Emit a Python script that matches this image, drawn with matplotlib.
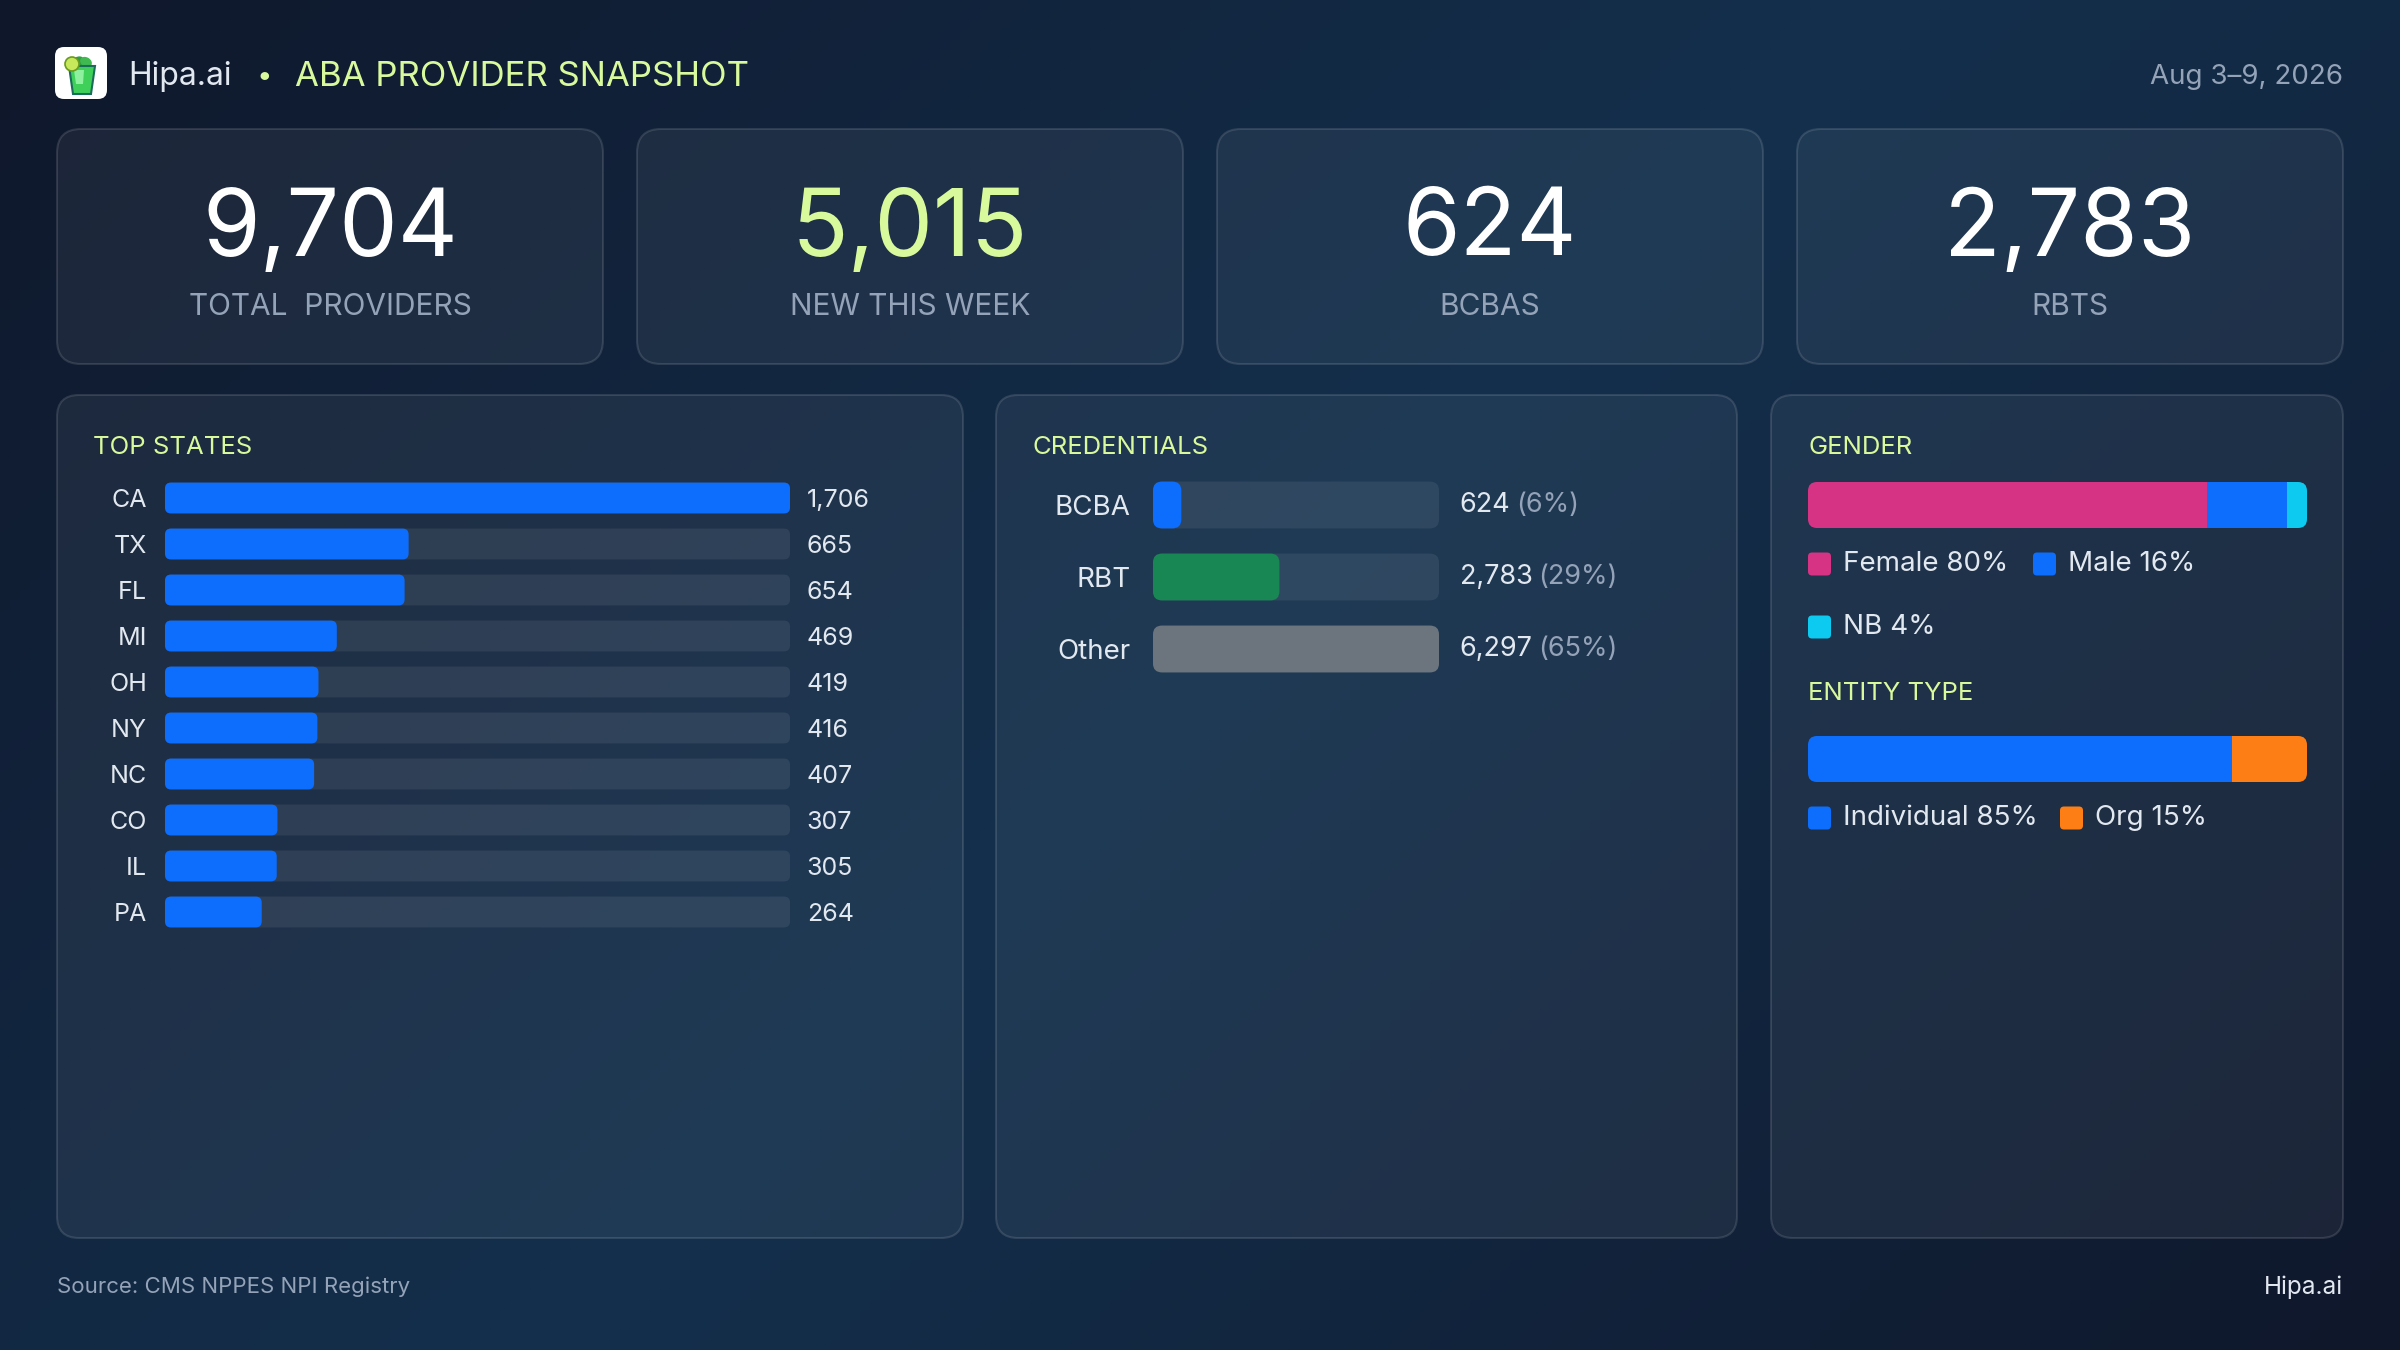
import numpy as np
import matplotlib
matplotlib.use("Agg")
import matplotlib.pyplot as plt
from matplotlib.patches import FancyBboxPatch, Polygon, Circle, Ellipse
from matplotlib.colors import LinearSegmentedColormap

plt.rcParams['font.family'] = ['Inter', 'DejaVu Sans']

# ---- data ----
kpi_values = ["9,704", "5,015", "624", "2,783"]
kpi_labels = ["TOTAL  PROVIDERS", "NEW THIS WEEK", "BCBAS", "RBTS"]

states = ["CA", "TX", "FL", "MI", "OH", "NY", "NC", "CO", "IL", "PA"]
state_counts = [1706, 665, 654, 469, 419, 416, 407, 307, 305, 264]

cred_names = ["BCBA", "RBT", "Other"]
cred_counts = [624, 2783, 6297]
cred_pcts = ["(6%)", "(29%)", "(65%)"]

gender_names = ["Female", "Male", "NB"]
gender_pcts = [80, 16, 4]

entity_names = ["Individual", "Org"]
entity_pcts = [85, 15]

# ---- colours ----
LIME = "#d9f99d"
MUTED = "#94a3b8"
TXT = "#e2e8f0"
BLUE = "#0d6efd"
TRACK = (1, 1, 1, 0.075)
cred_colors = [BLUE, "#198754", "#6c757d"]
gender_colors = ["#d63384", BLUE, "#0dcaf0"]
entity_colors = [BLUE, "#fd7e14"]

W, H = 2400, 1350
fig = plt.figure(figsize=(24, 13.5), dpi=100)
bg = fig.add_axes([0, 0, 1, 1])
bg.set_xlim(0, W)
bg.set_ylim(H, 0)
bg.axis("off")

# background gradient
yy, xx = np.mgrid[0:H:10, 0:W:10]
t = (xx + yy) / (W + H)
cmap = LinearSegmentedColormap.from_list("bg", ["#0f172a", "#14304d", "#0f172a"])
bg.imshow(t, cmap=cmap, extent=(0, W, H, 0), aspect="auto", zorder=0, vmin=0, vmax=1)


def card(x0, y0, x1, y1, r=24):
    p = FancyBboxPatch((x0, y0), x1 - x0, y1 - y0,
                       boxstyle=f"round,pad=0,rounding_size={r}",
                       facecolor=(1, 1, 1, 0.055), edgecolor=(1, 1, 1, 0.12),
                       linewidth=1.5, zorder=1)
    bg.add_patch(p)


def px_axes(x0, y0, x1, y1):
    ax = fig.add_axes([x0 / W, 1 - y1 / H, (x1 - x0) / W, (y1 - y0) / H])
    ax.patch.set_visible(False)
    for s in ax.spines.values():
        s.set_visible(False)
    ax.tick_params(length=0)
    ax.set_xticks([])
    ax.set_yticks([])
    return ax


def round_bars(ax, bars, r_px, wpx, hpx):
    x0, x1 = ax.get_xlim()
    y0, y1 = ax.get_ylim()
    rx = r_px * abs(x1 - x0) / wpx
    ry = r_px * abs(y1 - y0) / hpx
    out = []
    for b in bars:
        p = FancyBboxPatch((b.get_x(), b.get_y()), b.get_width(), b.get_height(),
                           boxstyle=f"round,pad=0,rounding_size={rx}",
                           mutation_aspect=ry / rx, facecolor=b.get_facecolor(),
                           edgecolor="none", zorder=b.get_zorder())
        b.remove()
        ax.add_patch(p)
        out.append(p)
    return out


# ---- header ----
logo = FancyBboxPatch((55, 47), 52, 52, boxstyle="round,pad=0,rounding_size=9",
                      facecolor="white", edgecolor="none", zorder=2)
bg.add_patch(logo)
bg.add_patch(Ellipse((78, 62), 12, 9, angle=-30, color="#2e9e3e", zorder=3))
bg.add_patch(Ellipse((86, 62), 11, 8, angle=30, color="#3fb950", zorder=3))
bg.add_patch(Polygon([[69, 66], [95, 66], [91, 94], [73, 94]], closed=True,
                     facecolor="#3fd05a", edgecolor="#1b6b5a", linewidth=1.5, zorder=3))
bg.add_patch(Polygon([[74, 70], [84, 70], [83, 84], [76, 84]], closed=True,
                     facecolor="#8ff0a0", edgecolor="none", zorder=4))
bg.add_patch(Circle((72, 64), 7, facecolor="#c6e85a", edgecolor="#6a9a20", linewidth=1.2, zorder=5))

bg.text(128, 77, "Hipa.ai", fontsize=23, color=TXT, va="center", zorder=5)
bg.text(264, 77, "•", fontsize=20, color=LIME, va="center", ha="center", zorder=5)
bg.text(295, 77, "ABA PROVIDER SNAPSHOT", fontsize=25, color=LIME, va="center", zorder=5)
bg.text(2343, 77, "Aug 3–9, 2026", fontsize=20, color=MUTED, va="center", ha="right", zorder=5)

# ---- KPI cards ----
kpi_x = [57, 637, 1217, 1797]
for i, (v, lab) in enumerate(zip(kpi_values, kpi_labels)):
    x0 = kpi_x[i]
    card(x0, 129, x0 + 546, 364, r=24)
    cx = x0 + 273
    bg.text(cx, 231, v, fontsize=67, color=LIME if i == 1 else "white",
            ha="center", va="center", zorder=5)
    bg.text(cx, 307, lab, fontsize=21.5, color=MUTED, ha="center", va="center", zorder=5)

# ---- panels ----
card(57, 395, 963, 1238, r=22)
card(996, 395, 1737, 1238, r=22)
card(1771, 395, 2343, 1238, r=22)

bg.text(93, 447, "TOP STATES", fontsize=18.5, color=LIME, va="center", zorder=5)
bg.text(1033, 447, "CREDENTIALS", fontsize=18.5, color=LIME, va="center", zorder=5)
bg.text(1808, 447, "GENDER", fontsize=18.5, color=LIME, va="center", zorder=5)
bg.text(1808, 693, "ENTITY TYPE", fontsize=18.5, color=LIME, va="center", zorder=5)

# top states
sx0, sy0, sx1, sy1 = 165, 475, 790, 935
ax = px_axes(sx0, sy0, sx1, sy1)
ypos = np.arange(len(states))
ax.set_xlim(0, max(state_counts))
ax.set_ylim(len(states) - 0.5, -0.5)
tr = ax.barh(ypos, [max(state_counts)] * len(states), height=0.67, color=TRACK, zorder=1)
br = ax.barh(ypos, state_counts, height=0.67, color=BLUE, zorder=2)
round_bars(ax, tr, 6, sx1 - sx0, sy1 - sy0)
round_bars(ax, br, 6, sx1 - sx0, sy1 - sy0)
ax.set_yticks(ypos, labels=states)
ax.tick_params(axis="y", length=0, pad=13, labelsize=18, labelcolor=TXT)
for y, c in zip(ypos, state_counts):
    ax.annotate(f"{c:,}", xy=(1, y), xycoords=("axes fraction", "data"),
                xytext=(12, 0), textcoords="offset points",
                va="center_baseline", ha="left", fontsize=18, color=TXT)

# credentials
cx0, cy0, cx1, cy1 = 1153, 469, 1439, 685
ax = px_axes(cx0, cy0, cx1, cy1)
ypos = np.arange(len(cred_names))
ax.set_xlim(0, max(cred_counts))
ax.set_ylim(len(cred_names) - 0.5, -0.5)
tr = ax.barh(ypos, [max(cred_counts)] * 3, height=0.65, color=TRACK, zorder=1)
br = ax.barh(ypos, cred_counts, height=0.65, color=cred_colors, zorder=2)
round_bars(ax, tr, 9, cx1 - cx0, cy1 - cy0)
round_bars(ax, br, 9, cx1 - cx0, cy1 - cy0)
ax.set_yticks(ypos, labels=cred_names)
ax.tick_params(axis="y", length=0, pad=16, labelsize=20, labelcolor=TXT)
for y, c, p in zip(ypos, cred_counts, cred_pcts):
    t1 = ax.annotate(f"{c:,}", xy=(1, y), xycoords=("axes fraction", "data"),
                     xytext=(15, 0), textcoords="offset points",
                     va="center", ha="left", fontsize=19.5, color=TXT)
    ax.annotate(p, xy=(1, 0.5), xycoords=t1, xytext=(4, 0),
                textcoords="offset points", va="center", ha="left",
                fontsize=19.5, color=MUTED)


def stacked(y0, y1, names, pcts, colors):
    gx0, gx1 = 1808, 2307
    ax = px_axes(gx0, y0, gx1, y1)
    ax.set_xlim(0, sum(pcts))
    ax.set_ylim(-0.5, 0.5)
    w, h = gx1 - gx0, y1 - y0
    rx = 9 * sum(pcts) / w
    clip = FancyBboxPatch((0, -0.5), sum(pcts), 1.0,
                          boxstyle=f"round,pad=0,rounding_size={rx}",
                          mutation_aspect=(9 / h) / rx, transform=ax.transData,
                          facecolor="none", edgecolor="none")
    left = np.concatenate([[0], np.cumsum(pcts)[:-1]])
    bars = ax.barh([0] * len(pcts), pcts, left=left, height=1.0, color=colors)
    for b in bars:
        b.set_clip_path(clip)


stacked(482, 528, gender_names, gender_pcts, gender_colors)
stacked(736, 782, entity_names, entity_pcts, entity_colors)


def legend_item(x, y, color, label):
    sq = FancyBboxPatch((x, y - 11.5), 23, 23, boxstyle="round,pad=0,rounding_size=4",
                        facecolor=color, edgecolor="none", zorder=5)
    bg.add_patch(sq)
    bg.text(x + 35, y, label, fontsize=20, color=TXT, va="center", zorder=5)


legend_item(1808, 564, gender_colors[0], f"{gender_names[0]} {gender_pcts[0]}%")
legend_item(2033, 564, gender_colors[1], f"{gender_names[1]} {gender_pcts[1]}%")
legend_item(1808, 627, gender_colors[2], f"{gender_names[2]} {gender_pcts[2]}%")
legend_item(1808, 818, entity_colors[0], f"{entity_names[0]} {entity_pcts[0]}%")
legend_item(2060, 818, entity_colors[1], f"{entity_names[1]} {entity_pcts[1]}%")

# ---- footer ----
bg.text(57, 1287, "Source: CMS NPPES NPI Registry", fontsize=16, color=MUTED, va="center", zorder=5)
bg.text(2343, 1287, "Hipa.ai", fontsize=17.5, color=TXT, va="center", ha="right", zorder=5)

fig.savefig("out.png", dpi=100, facecolor="#0f172a")
